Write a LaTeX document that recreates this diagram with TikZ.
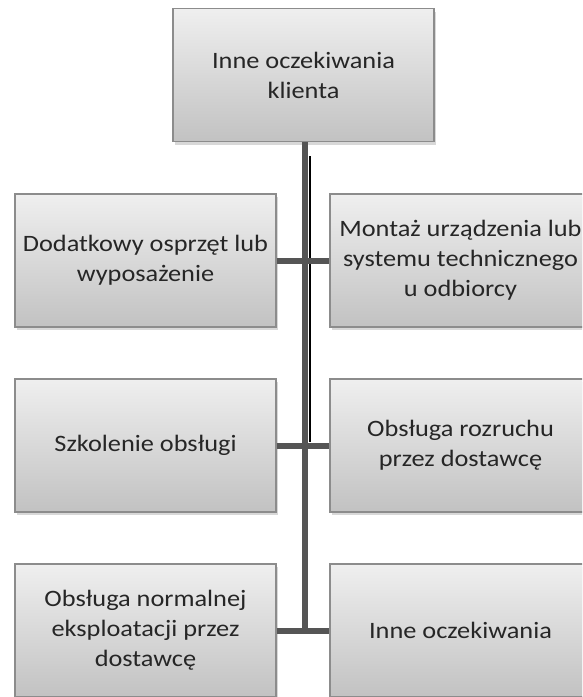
\documentclass[tikz,border=0pt]{standalone}
\usepackage{fontspec}
\setmainfont{Carlito}[FakeStretch=1.12]
\usetikzlibrary{shadows}
\definecolor{boxtop}{HTML}{EFEFEF}
\definecolor{boxbot}{HTML}{C2C2C2}
\definecolor{boxborder}{HTML}{8C8C8C}
\definecolor{conncol}{HTML}{555555}
\definecolor{textcol}{HTML}{262626}
\begin{document}
\begin{tikzpicture}[x=1pt,y=-1pt,
  box/.style={draw=boxborder, line width=1.2pt, top color=boxtop, bottom color=boxbot,
    minimum width=261pt, minimum height=133pt, align=center,
    inner sep=0pt, font=\fontsize{23.5}{30}\selectfont, text=textcol,
    drop shadow={opacity=0.3, shadow xshift=1.5pt, shadow yshift=-3pt}},
  conn/.style={draw=conncol, line width=6pt},
  thin/.style={draw=black, line width=2pt}]
\useasboundingbox (0,0) rectangle (582,697);
\clip (0,0) rectangle (582,697);
\fill[white] (0,0) rectangle (582,697);
\node[box] (top) at (303.5,75) {Inne oczekiwania\\klienta};
\node[box] (l2) at (145.5,260.5) {Dodatkowy osprzęt lub\\wyposażenie};
\node[box] (r2) at (460.5,260.5) {Montaż urządzenia lub\\systemu technicznego\\u odbiorcy};
\node[box] (l3) at (145.5,445.5) {Szkolenie obsługi};
\node[box] (r3) at (460.5,445.5) {Obsługa rozruchu\\przez dostawcę};
\node[box] (l4) at (145.5,630.5) {Obsługa normalnej\\eksploatacji przez\\dostawcę};
\node[box] (r4) at (460.5,630.5) {Inne oczekiwania};
\coordinate (t0) at ([xshift=1.5pt]top.south);
\coordinate (b1) at (310,156);
\coordinate (b2) at (310,442);
\draw[thin] (b1) -- (b2);
\draw[conn] (t0) -- (t0 |- l4.east);
\draw[conn] (l2.east) -- (r2.west);
\draw[conn] (l3.east) -- (r3.west);
\draw[conn] (l4.east) -- (r4.west);
\end{tikzpicture}
\end{document}
